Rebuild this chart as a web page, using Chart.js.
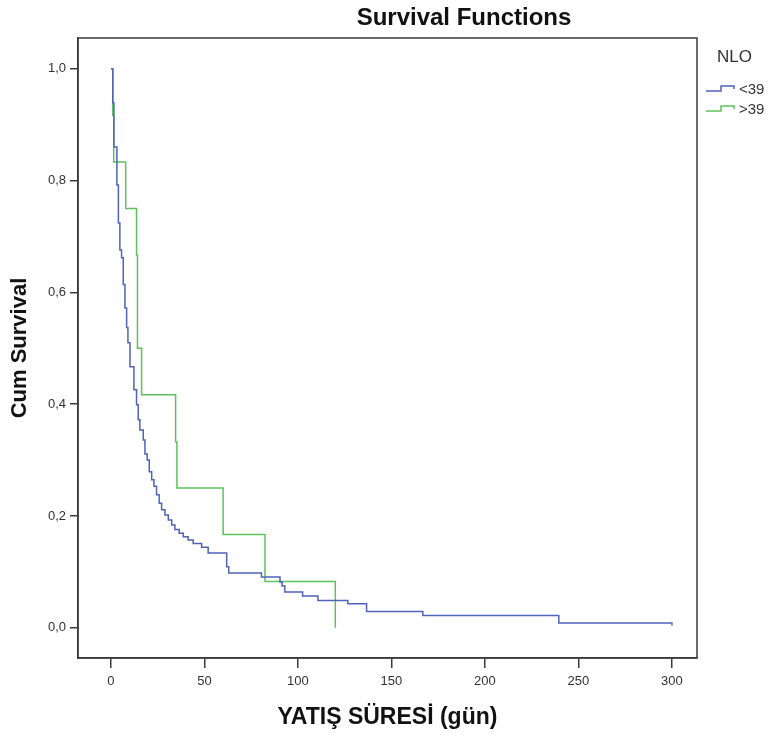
<!DOCTYPE html>
<html>
<head>
<meta charset="utf-8">
<script src="https://cdn.jsdelivr.net/npm/chart.js@4.4.1/dist/chart.umd.min.js"></script>
<style>
  html, body { margin: 0; padding: 0; background: #fff; }
  #wrap { width: 771px; height: 735px; }
</style>
</head>
<body>
<div id="wrap"><canvas id="km" width="771" height="735"></canvas></div>
<script>
// Kaplan-Meier steps (time in days, cum survival after the drop)
const grupoLabels = ["<39", ">39"];
const tiemposBajo = [0, 1, 1.6, 3.2, 4, 4.8, 5.7, 6.6, 7.5, 8.4, 9.1, 10.2, 12.3, 13.7, 14.6, 15.5,
  17.3, 18.2, 19.4, 20.5, 21.8, 23, 24.4, 25.8, 27.1, 28.9, 30.7, 32.5, 34.2, 36.5, 38.7, 41.3, 44,
  48.5, 52, 61.9, 63, 80.5, 90.4, 91.5, 93, 102.5, 110.7, 126.7, 136.7, 166.8, 239.5, 300];
const survBajo = [1, 0.939, 0.86, 0.792, 0.724, 0.676, 0.662, 0.614, 0.572, 0.537, 0.51, 0.467, 0.426, 0.399, 0.372, 0.354,
  0.336, 0.311, 0.300, 0.279, 0.265, 0.253, 0.238, 0.223, 0.211, 0.202, 0.193, 0.184, 0.176, 0.169, 0.163, 0.157, 0.151,
  0.144, 0.134, 0.109, 0.098, 0.091, 0.082, 0.075, 0.064, 0.057, 0.049, 0.043, 0.029, 0.022, 0.0084, 0.004];
const tiemposAlto = [0, 1, 1.5, 7.9, 13.7, 14.2, 16.4, 34.6, 35.3, 60, 82.4, 120];
const survAlto = [1, 0.917, 0.833, 0.75, 0.667, 0.5, 0.417, 0.333, 0.25, 0.167, 0.083, 0];
const xTicks = [0, 50, 100, 150, 200, 250, 300];
const yTicks = [0, 0.2, 0.4, 0.6, 0.8, 1.0];

const colorBajo = "#4f63b8";
const colorAlto = "#5cc25c";
const ejeColor = "#3a3a3a";
const fuente = "'Liberation Sans', Arial, sans-serif";

const toPoints = (ts, ss) => ts.map((t, i) => ({ x: t, y: ss[i] }));

// frame around the plot, title and the step legend on the right
const extras = {
  id: "extras",
  afterDraw(chart) {
    const { ctx, chartArea: a } = chart;
    ctx.save();
    ctx.strokeStyle = ejeColor;
    ctx.lineWidth = 1.5;
    ctx.strokeRect(a.left, a.top, a.right - a.left, a.bottom - a.top);

    ctx.fillStyle = "#111";
    ctx.font = "bold 24px " + fuente;
    ctx.textAlign = "center";
    ctx.textBaseline = "middle";
    ctx.fillText("Survival Functions", 464, 18);

    ctx.font = "17px " + fuente;
    ctx.textAlign = "left";
    ctx.fillStyle = "#333";
    ctx.fillText("NLO", 717, 57);

    ctx.font = "15px " + fuente;
    chart.data.datasets.forEach((ds, i) => {
      const y = 90 + i * 20;
      ctx.strokeStyle = ds.borderColor;
      ctx.lineWidth = 1.5;
      ctx.beginPath();
      ctx.moveTo(706, y + 1);
      ctx.lineTo(721, y + 1);
      ctx.lineTo(721, y - 4);
      ctx.lineTo(734, y - 4);
      ctx.lineTo(734, y - 1);
      ctx.stroke();
      ctx.fillStyle = "#333";
      ctx.fillText(ds.label, 739, y);
    });
    ctx.restore();
  },
};

new Chart(document.getElementById("km"), {
  type: "line",
  data: {
    datasets: [
      {
        label: grupoLabels[0],
        data: toPoints(tiemposBajo, survBajo),
        borderColor: colorBajo,
        borderWidth: 1.5,
        stepped: "before",
        pointRadius: 0,
        fill: false,
      },
      {
        label: grupoLabels[1],
        data: toPoints(tiemposAlto, survAlto),
        borderColor: colorAlto,
        borderWidth: 1.5,
        stepped: "before",
        pointRadius: 0,
        fill: false,
      },
    ],
  },
  options: {
    responsive: false,
    animation: false,
    layout: { padding: { top: 38, right: 74, left: 0, bottom: 0 } },
    plugins: {
      legend: { display: false },
      tooltip: { enabled: false },
    },
    scales: {
      x: {
        type: "linear",
        min: -17.6,
        max: 313.4,
        afterBuildTicks: (s) => { s.ticks = xTicks.map((v) => ({ value: v })); },
        afterFit: (s) => { s.height = 77; },
        grid: { display: true, drawOnChartArea: false, drawTicks: true, tickLength: 10, color: ejeColor, lineWidth: 1.5 },
        border: { display: true, color: ejeColor, width: 1.5 },
        ticks: { color: "#333", font: { family: fuente, size: 13 }, padding: 6, maxRotation: 0, autoSkip: false },
        title: { display: true, text: "YATIŞ SÜRESİ (gün)", color: "#111", font: { family: fuente, size: 23, weight: "bold" }, padding: { bottom: 4 } },
      },
      y: {
        type: "linear",
        min: -0.054,
        max: 1.055,
        afterBuildTicks: (s) => { s.ticks = yTicks.map((v) => ({ value: v })); },
        afterFit: (s) => { s.width = 78; },
        grid: { display: true, drawOnChartArea: false, drawTicks: true, tickLength: 8, color: ejeColor, lineWidth: 1.5 },
        border: { display: true, color: ejeColor, width: 1.5 },
        ticks: {
          color: "#333",
          font: { family: fuente, size: 13 },
          padding: 4,
          callback: (v) => v.toFixed(1).replace(".", ","),
        },
        title: { display: true, text: "Cum Survival", color: "#111", font: { family: fuente, size: 22, weight: "bold" }, padding: { top: 7 } },
      },
    },
  },
  plugins: [extras],
});
</script>
</body>
</html>
